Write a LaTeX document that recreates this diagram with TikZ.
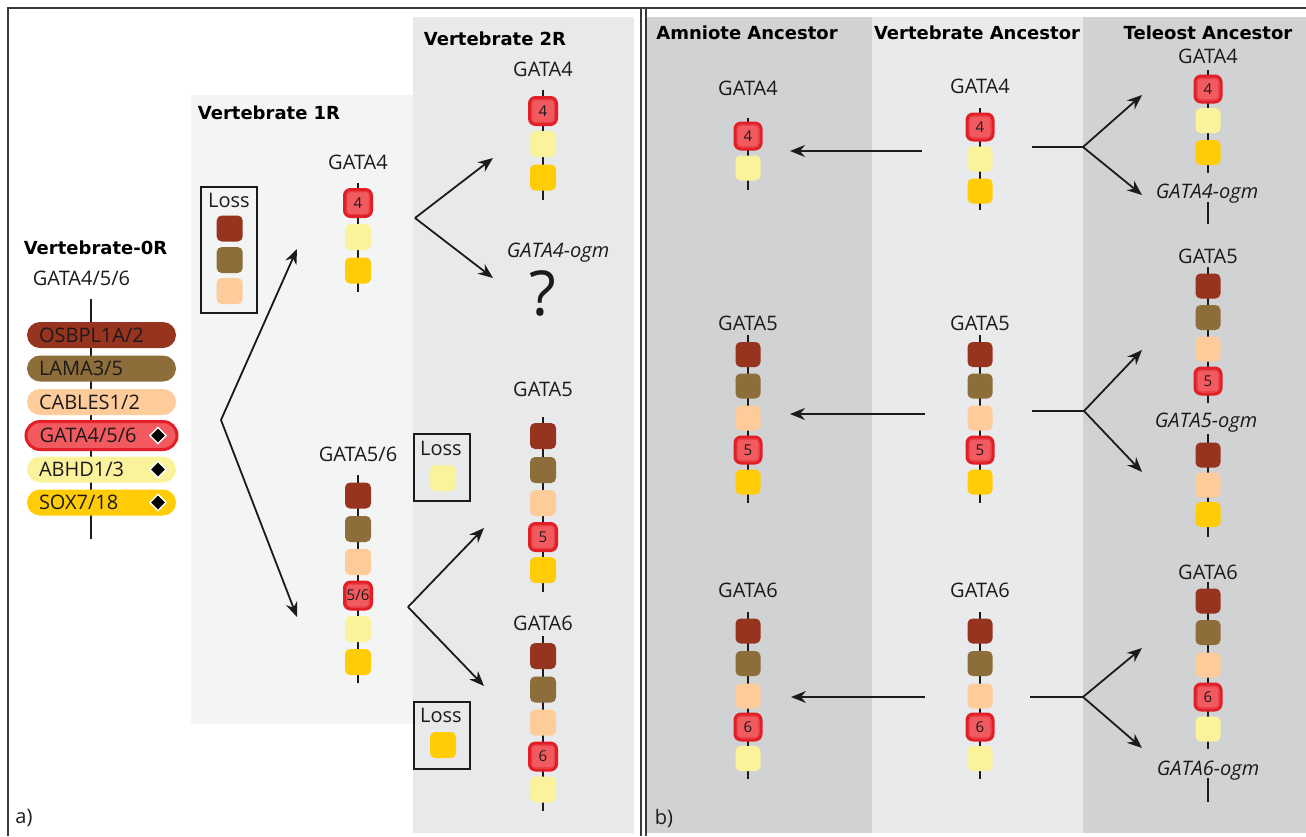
\documentclass[tikz,border=0pt]{standalone}
\usepackage{fontspec}
\setmainfont{Open Sans}
\newfontfamily\hdrfont{DejaVu Sans}
\usetikzlibrary{arrows.meta,shapes.geometric}
\definecolor{cBrn}{HTML}{97341F}
\definecolor{cOlv}{HTML}{8D6E3A}
\definecolor{cPch}{HTML}{FECB9A}
\definecolor{cRedF}{HTML}{F15B5F}
\definecolor{cRedD}{HTML}{E21E26}
\definecolor{cRedM}{HTML}{E8434A}
\definecolor{cYlw}{HTML}{FAF39C}
\definecolor{cGld}{HTML}{FFCC05}
\definecolor{cInk}{HTML}{1E1A1B}
\definecolor{cFrame}{HTML}{3A3A3A}
\definecolor{bgOneR}{HTML}{F3F4F4}
\definecolor{bgTwoR}{HTML}{E8E9EB}
\definecolor{bgDark}{HTML}{D1D2D4}
\definecolor{bgLight}{HTML}{E9EAEC}
\begin{document}
\begin{tikzpicture}[x=1pt,y=-1pt,
  bx/.style={rectangle,rounded corners=5pt,minimum width=26pt,minimum height=26pt,inner sep=0pt,draw=none},
  bxr/.style={bx,minimum width=25pt,minimum height=25pt},
  rim/.style={path picture={\draw[cRedM,line width=1.2pt,rounded corners=3pt] ([shift={(2.3pt,2.3pt)}]path picture bounding box.south west) rectangle ([shift={(-2.3pt,-2.3pt)}]path picture bounding box.north east);}},
  redl/.style={rectangle,rounded corners=6pt,minimum width=27pt,minimum height=27pt,inner sep=0pt,fill=cRedF,draw=cRedD,line width=3pt,rim,font=\fontsize{15}{17}\selectfont,text=cInk},
  redr/.style={redl,minimum width=26pt,minimum height=26pt},
  pill/.style={rectangle,rounded corners=13pt,minimum height=26pt,inner sep=0pt,inner xsep=12pt,text width=125pt,align=left,font=\fontsize{20}{21}\selectfont,text height=14.2pt,text depth=0pt,text=cInk},
  pillred/.style={pill,rounded corners=14pt,minimum height=28pt,inner xsep=13.5pt,text width=124pt,fill=cRedF,draw=cRedD,line width=3pt},
  dmd/.style={diamond,aspect=1,minimum size=17pt,inner sep=0pt,fill=black,draw=white,line width=1.4pt},
  chn/.style={draw=cInk,line width=2pt},
  lab/.style={font=\fontsize{20}{22}\selectfont,text=cInk,inner sep=0pt,text height=14.2pt,text depth=0pt},
  ilab/.style={lab,font=\fontsize{20}{22}\selectfont\itshape},
  hdr/.style={font=\hdrfont\bfseries\fontsize{18}{20}\selectfont,text=black,inner sep=0pt,text height=13.1pt,text depth=0pt},
  lossbox/.style={rectangle,draw=cInk,line width=2pt,minimum width=56pt,inner sep=0pt},
  arr/.style={draw=cInk,line width=1.8pt,-{Stealth[length=15pt,width=12pt,inset=5pt]}},
  frm/.style={draw=cFrame,line width=2pt}
]
\useasboundingbox (0,0) rectangle (1306,836);
% backgrounds
\fill[bgOneR] (191,95) rectangle (413,724);
\fill[bgTwoR] (413,17) rectangle (634,833);
\fill[bgDark] (646,17) rectangle (872,833);
\fill[bgLight] (872,17) rectangle (1083,833);
\fill[bgDark] (1083,17) rectangle (1306,833);
% frame
\coordinate (fa) at (8,836); \coordinate (fb) at (8,8); \coordinate (fc) at (1306,8);
\coordinate (fd) at (641,8); \coordinate (fe) at (641,836);
\coordinate (ff) at (645.5,8); \coordinate (fg) at (645.5,836);
\draw[frm] (fa) -- (fb) -- (fc);
\draw[frm] (fd) -- (fe);
\draw[frm] (ff) -- (fg);

% headers
\node[hdr] (h0) at (95.5,247.5) {Vertebrate-0R};
\node[hdr] (h1) at (269,113) {Vertebrate 1R};
\node[hdr] (h2) at (495,38.5) {Vertebrate 2R};
\node[hdr] (h3) at (747,33) {Amniote Ancestor};
\node[hdr] (h4) at (977,33) {Vertebrate Ancestor};
\node[hdr] (h5) at (1208,33) {Teleost Ancestor};
\node[lab,text height=,text depth=] (pa) at (24,818) {a)};
\node[lab,text height=,text depth=] (pb) at (664,818) {b)};

% ---------- Vertebrate-0R legend
\node[lab] (l0lab) at (81.5,278.5) {GATA4/5/6};
\coordinate (l0t) at (91,299); \coordinate (l0b) at (91,539);
\draw[chn] (l0t) -- (l0b);
\node[pill,fill=cBrn] (p1) at (101.5,335) {OSBPL1A/2};
\node[pill,fill=cOlv] (p2) at (101.5,368.5) {LAMA3/5};
\node[pill,fill=cPch] (p3) at (101.5,402) {CABLES1/2};
\node[pillred] (p4) at (101.5,435.5) {GATA4/5/6};
\node[pill,fill=cYlw] (p5) at (101.5,469.5) {ABHD1/3};
\node[pill,fill=cGld] (p6) at (101.5,502.5) {SOX7/18};
\node[dmd] (d4) at (158,435.5) {};
\node[dmd] (d5) at (158,469.5) {};
\node[dmd] (d6) at (158,502.5) {};

% ---------- Vertebrate 1R
\node[lossbox,minimum height=126pt] (loss1) at (229,250) {};
\node[lab] (loss1t) at (229,200.5) {Loss};
\node[bx,fill=cBrn] (loss1a) at (229.7,228.5) {};
\node[bx,fill=cOlv] (loss1b) at (229.7,260) {};
\node[bx,fill=cPch] (loss1c) at (229.7,291) {};

\node[lab] (a4l) at (358,162.5) {GATA4};
\coordinate (a4t) at (358,183); \coordinate (a4b) at (358,292);
\draw[chn] (a4t) -- (a4b);
\node[redl] (a4r) at (358,203) {4};
\node[bx,fill=cYlw] (a4y) at (358,237) {};
\node[bx,fill=cGld] (a4g) at (358,270.5) {};

\node[lab] (a56l) at (358,454) {GATA5/6};
\coordinate (a56t) at (358,475); \coordinate (a56b) at (358,683);
\draw[chn] (a56t) -- (a56b);
\node[bx,fill=cBrn] (a56a) at (358,495.5) {};
\node[bx,fill=cOlv] (a56o) at (358,529) {};
\node[bx,fill=cPch] (a56p) at (358,562) {};
\node[redl] (a56r) at (358,595.5) {5/6};
\node[bx,fill=cYlw] (a56y) at (358,629) {};
\node[bx,fill=cGld] (a56g) at (358,662) {};

% arrows 0R -> 1R
\coordinate (v0) at (221,420);
\coordinate (t0a) at (297,249); \coordinate (t0b) at (297,617);
\draw[arr] (v0) -- (t0a);
\draw[arr] (v0) -- (t0b);

% ---------- Vertebrate 2R
\node[lab] (b4l) at (543,69.5) {GATA4};
\coordinate (b4t) at (543,90); \coordinate (b4b) at (543,200);
\draw[chn] (b4t) -- (b4b);
\node[redl] (b4r) at (543,111) {4};
\node[bx,fill=cYlw] (b4y) at (543,144) {};
\node[bx,fill=cGld] (b4g) at (543,177.5) {};
\node[ilab] (b4o) at (558,250) {GATA4-ogm};
\node[inner sep=0pt,font=\fontsize{62}{64}\selectfont,text=cInk] (q) at (543,293) {?};

\coordinate (v1) at (415,218);
\coordinate (t1a) at (493,158); \coordinate (t1b) at (493,278);
\draw[arr] (v1) -- (t1a);
\draw[arr] (v1) -- (t1b);

\node[lossbox,minimum height=67pt] (loss2) at (442,467.5) {};
\node[lab] (loss2t) at (441,448) {Loss};
\node[bx,fill=cYlw] (loss2a) at (443,478) {};

\node[lossbox,minimum height=67pt] (loss3) at (442,735.5) {};
\node[lab] (loss3t) at (441,715.5) {Loss};
\node[bx,fill=cGld] (loss3a) at (443,745) {};

\node[lab] (b5l) at (543,389.5) {GATA5};
\coordinate (b5t) at (543,417); \coordinate (b5b) at (543,592);
\draw[chn] (b5t) -- (b5b);
\node[bx,fill=cBrn] (b5a) at (543,436) {};
\node[bx,fill=cOlv] (b5o) at (543,470) {};
\node[bx,fill=cPch] (b5p) at (543,503) {};
\node[redl] (b5r) at (543,537) {5};
\node[bx,fill=cGld] (b5g) at (543,570) {};

\node[lab] (b6l) at (543,623.5) {GATA6};
\coordinate (b6t) at (543,636); \coordinate (b6b) at (543,811);
\draw[chn] (b6t) -- (b6b);
\node[bx,fill=cBrn] (b6a) at (543,656) {};
\node[bx,fill=cOlv] (b6o) at (543,689.5) {};
\node[bx,fill=cPch] (b6p) at (543,722.5) {};
\node[redl] (b6r) at (543,756.5) {6};
\node[bx,fill=cYlw] (b6y) at (543,789.5) {};

\coordinate (v2) at (408,607);
\coordinate (t2a) at (484,528); \coordinate (t2b) at (484,686);
\draw[arr] (v2) -- (t2a);
\draw[arr] (v2) -- (t2b);

% ---------- panel b: Amniote ancestor
\node[lab] (m4l) at (748,88) {GATA4};
\coordinate (m4t) at (748,118); \coordinate (m4b) at (748,190);
\draw[chn] (m4t) -- (m4b);
\node[redr] (m4r) at (748,136) {4};
\node[bxr,fill=cYlw] (m4y) at (748,168) {};

\node[lab] (m5l) at (748,323) {GATA5};
\coordinate (m5t) at (748,335); \coordinate (m5b) at (748,503);
\draw[chn] (m5t) -- (m5b);
\node[bxr,fill=cBrn] (m5a) at (748,354.5) {};
\node[bxr,fill=cOlv] (m5o) at (748,386) {};
\node[bxr,fill=cPch] (m5p) at (748,418) {};
\node[redr] (m5r) at (748,450) {5};
\node[bxr,fill=cGld] (m5g) at (748,482) {};

\node[lab] (m6l) at (748,590) {GATA6};
\coordinate (m6t) at (748,612); \coordinate (m6b) at (748,779);
\draw[chn] (m6t) -- (m6b);
\node[bxr,fill=cBrn] (m6a) at (748,631) {};
\node[bxr,fill=cOlv] (m6o) at (748,663.5) {};
\node[bxr,fill=cPch] (m6p) at (748,696) {};
\node[redr] (m6r) at (748,727) {6};
\node[bxr,fill=cYlw] (m6y) at (748,758.5) {};

% ---------- Vertebrate ancestor
\node[lab] (w4l) at (980,86.5) {GATA4};
\coordinate (w4t) at (980,108); \coordinate (w4b) at (980,210);
\draw[chn] (w4t) -- (w4b);
\node[redr] (w4r) at (980,127) {4};
\node[bxr,fill=cYlw] (w4y) at (980,159) {};
\node[bxr,fill=cGld] (w4g) at (980,191) {};

\node[lab] (w5l) at (980,323) {GATA5};
\coordinate (w5t) at (980,335); \coordinate (w5b) at (980,503);
\draw[chn] (w5t) -- (w5b);
\node[bxr,fill=cBrn] (w5a) at (980,354.5) {};
\node[bxr,fill=cOlv] (w5o) at (980,386) {};
\node[bxr,fill=cPch] (w5p) at (980,418) {};
\node[redr] (w5r) at (980,450) {5};
\node[bxr,fill=cGld] (w5g) at (980,482) {};

\node[lab] (w6l) at (980,590) {GATA6};
\coordinate (w6t) at (980,612); \coordinate (w6b) at (980,779);
\draw[chn] (w6t) -- (w6b);
\node[bxr,fill=cBrn] (w6a) at (980,631) {};
\node[bxr,fill=cOlv] (w6o) at (980,663.5) {};
\node[bxr,fill=cPch] (w6p) at (980,696) {};
\node[redr] (w6r) at (980,727) {6};
\node[bxr,fill=cYlw] (w6y) at (980,758.5) {};

% arrows vertebrate -> amniote
\coordinate (s4) at (922,151); \coordinate (e4) at (790,151);
\coordinate (s5) at (925,414); \coordinate (e5) at (790,414);
\coordinate (s6) at (925,697); \coordinate (e6) at (791,697);
\draw[arr] (s4) -- (e4);
\draw[arr] (s5) -- (e5);
\draw[arr] (s6) -- (e6);

% arrows vertebrate -> teleost
\coordinate (k4) at (1032,147); \coordinate (u4) at (1083,147);
\coordinate (x4a) at (1142,95); \coordinate (x4b) at (1142,195);
\draw[chn] (k4) -- (u4);
\draw[arr] (u4) -- (x4a);
\draw[arr] (u4) -- (x4b);
\coordinate (k5) at (1032,411); \coordinate (u5) at (1084,411);
\coordinate (x5a) at (1142,350); \coordinate (x5b) at (1142,472);
\draw[chn] (k5) -- (u5);
\draw[arr] (u5) -- (x5a);
\draw[arr] (u5) -- (x5b);
\coordinate (k6) at (1030,697); \coordinate (u6) at (1083,697);
\coordinate (x6a) at (1142,648); \coordinate (x6b) at (1142,748);
\draw[chn] (k6) -- (u6);
\draw[arr] (u6) -- (x6a);
\draw[arr] (u6) -- (x6b);

% ---------- Teleost ancestor
\node[lab] (t4l) at (1208,56.5) {GATA4};
\coordinate (t4t) at (1208,70); \coordinate (t4b) at (1208,173);
\draw[chn] (t4t) -- (t4b);
\node[redr] (t4r) at (1208,89) {4};
\node[bxr,fill=cYlw] (t4y) at (1208,120.5) {};
\node[bxr,fill=cGld] (t4g) at (1208,152.5) {};
\node[ilab] (t4o) at (1207,191) {GATA4-ogm};
\coordinate (t4ot) at (1208,202); \coordinate (t4ob) at (1208,224);
\draw[chn] (t4ot) -- (t4ob);

\node[lab] (t5l) at (1208,256) {GATA5};
\coordinate (t5t) at (1208,267); \coordinate (t5b) at (1208,403);
\draw[chn] (t5t) -- (t5b);
\node[bxr,fill=cBrn] (t5a) at (1208,286) {};
\node[bxr,fill=cOlv] (t5o) at (1208,317.5) {};
\node[bxr,fill=cPch] (t5p) at (1208,349) {};
\node[redr] (t5r) at (1208,381) {5};
\node[ilab] (t5og) at (1206,420) {GATA5-ogm};
\coordinate (t5ot) at (1208,434); \coordinate (t5ob) at (1208,537);
\draw[chn] (t5ot) -- (t5ob);
\node[bxr,fill=cBrn] (t5oa) at (1208,455) {};
\node[bxr,fill=cPch] (t5op) at (1208,485) {};
\node[bxr,fill=cGld] (t5og2) at (1208,514.5) {};

\node[lab] (t6l) at (1208,572) {GATA6};
\coordinate (t6t) at (1208,582); \coordinate (t6b) at (1208,749);
\draw[chn] (t6t) -- (t6b);
\node[bxr,fill=cBrn] (t6a) at (1208,601) {};
\node[bxr,fill=cOlv] (t6o) at (1208,632.5) {};
\node[bxr,fill=cPch] (t6p) at (1208,665) {};
\node[redr] (t6r) at (1208,697) {6};
\node[bxr,fill=cYlw] (t6y) at (1208,729) {};
\node[ilab] (t6og) at (1208,768) {GATA6-ogm};
\coordinate (t6ot) at (1208,778); \coordinate (t6ob) at (1208,802);
\draw[chn] (t6ot) -- (t6ob);
\end{tikzpicture}
\end{document}
